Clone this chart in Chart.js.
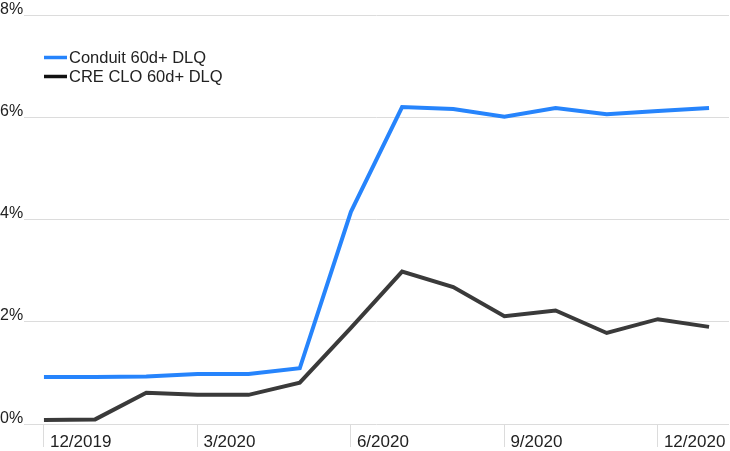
<!DOCTYPE html>
<html>
<head>
<meta charset="utf-8">
<script src="https://cdn.jsdelivr.net/npm/chart.js@4/dist/chart.umd.min.js"></script>
<style>
  html, body { margin: 0; padding: 0; background: #fff; }
  #wrap { width: 730px; height: 451px; }
</style>
</head>
<body>
<div id="wrap"><canvas id="myChart"></canvas></div>
<script>
// monthly observations, 12/2019 .. 1/2021
var months = ["12/2019","1/2020","2/2020","3/2020","4/2020","5/2020","6/2020",
              "7/2020","8/2020","9/2020","10/2020","11/2020","12/2020","1/2021"];
var conduit = [0.92, 0.92, 0.93, 0.98, 0.98, 1.09, 4.15, 6.20, 6.16, 6.01, 6.18, 6.06, 6.12, 6.18];
var creClo  = [0.08, 0.09, 0.61, 0.57, 0.57, 0.81, 1.88, 2.98, 2.68, 2.11, 2.22, 1.78, 2.05, 1.90];
var tickIdx = [0, 3, 6, 9, 12];
var yTicks = [0, 2, 4, 6, 8];

var FONT = "'Liberation Sans', Arial, sans-serif";

function toPoints(arr) {
  return arr.map(function(v, i) { return { x: i, y: v }; });
}

// tick labels: y labels sit on top of their gridline, x labels sit right of the tick mark
var tickText = {
  id: 'tickText',
  afterDraw: function(chart) {
    var c = chart.ctx;
    var xs = chart.scales.x, ys = chart.scales.y;
    c.save();
    c.fillStyle = '#222';
    c.textBaseline = 'alphabetic';
    c.textAlign = 'left';
    c.font = '16px ' + FONT;
    yTicks.forEach(function(v) {
      c.fillText(v + '%', 0, ys.getPixelForValue(v) - 1.5);
    });
    c.font = '17px ' + FONT;
    tickIdx.forEach(function(i) {
      c.fillText(months[i], xs.getPixelForValue(i) + 6, chart.chartArea.bottom + 23);
    });
    c.restore();
  }
};

// legend drawn inside the plot, top-left
var insideLegend = {
  id: 'insideLegend',
  afterDraw: function(chart) {
    var c = chart.ctx;
    var sw = ['#2684fc', '#111111'];
    c.save();
    c.font = '16.5px ' + FONT;
    c.textBaseline = 'middle';
    c.textAlign = 'left';
    chart.data.datasets.forEach(function(ds, i) {
      var y = 57.5 + i * 19;
      c.strokeStyle = sw[i];
      c.lineWidth = 3.5;
      c.beginPath();
      c.moveTo(44, y);
      c.lineTo(67, y);
      c.stroke();
      c.fillStyle = '#222';
      c.fillText(ds.label, 69, y + 1);
    });
    c.restore();
  }
};

var ctx = document.getElementById('myChart').getContext('2d');

var myChart = new Chart(ctx, {
  type: 'line',
  data: {
    datasets: [{
      label: 'Conduit 60d+ DLQ',
      data: toPoints(conduit),
      borderColor: '#2684fc',
      borderWidth: 4,
      pointRadius: 0,
      fill: false,
      tension: 0
    }, {
      label: 'CRE CLO 60d+ DLQ',
      data: toPoints(creClo),
      borderColor: '#3a3a3a',
      borderWidth: 4,
      pointRadius: 0,
      fill: false,
      tension: 0
    }]
  },
  options: {
    responsive: true,
    maintainAspectRatio: false,
    animation: false,
    layout: { padding: { top: 15, right: 1, bottom: 4, left: 24 } },
    plugins: {
      legend: { display: false },
      tooltip: { enabled: false }
    },
    scales: {
      x: {
        type: 'linear',
        min: -0.39,
        max: 13.39,
        afterBuildTicks: function(s) {
          s.ticks = tickIdx.map(function(v) { return { value: v }; });
        },
        border: { display: false },
        grid: {
          drawOnChartArea: false,
          drawTicks: true,
          tickLength: 23,
          color: '#dcdcdc'
        },
        ticks: { display: false }
      },
      y: {
        min: 0,
        max: 8,
        afterBuildTicks: function(s) {
          s.ticks = yTicks.map(function(v) { return { value: v }; });
        },
        border: { display: false },
        grid: {
          drawTicks: false,
          color: '#dcdcdc'
        },
        ticks: { display: false }
      }
    }
  },
  plugins: [tickText, insideLegend]
});
</script>
</body>
</html>
